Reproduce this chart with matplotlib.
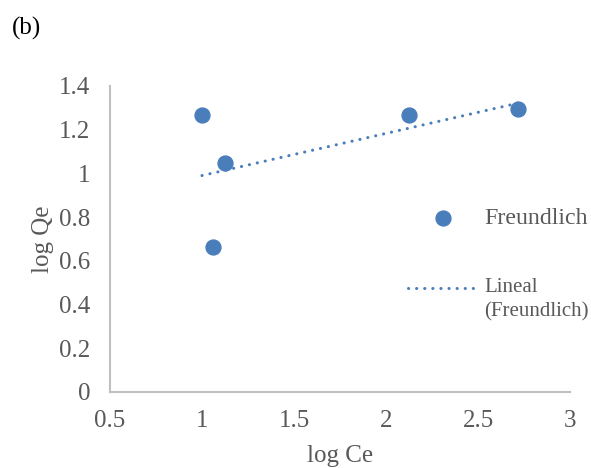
import numpy as np
import matplotlib
matplotlib.use('Agg')
from matplotlib import pyplot as plt
from matplotlib.lines import Line2D

# Freundlich isotherm data
log_ce = [1.00, 1.125, 1.06, 2.127, 2.72]
log_qe = [1.266, 1.049, 0.662, 1.266, 1.293]

x_ticks = [0.5, 1, 1.5, 2, 2.5, 3]
x_labels = ['0.5', '1', '1.5', '2', '2.5', '3']
y_ticks = [0, 0.2, 0.4, 0.6, 0.8, 1, 1.2, 1.4]
y_labels = ['0', '0.2', '0.4', '0.6', '0.8', '1', '1.2', '1.4']

blue = '#4a7ebb'
grey_txt = '#595959'
grey_axis = '#bfbfbf'
fs = 18

plt.rcParams['font.family'] = ['Liberation Serif', 'DejaVu Serif']

W, H = 591, 468
fig = plt.figure(figsize=(W/100, H/100), dpi=100)
ax = fig.add_axes([110/W, 1 - 392/H, 460/W, 306/H])

ax.scatter(log_ce, log_qe, s=115, color=blue, zorder=3)

# linear trendline, fitted like Excel does
slope, intercept = np.polyfit(log_ce, log_qe, 1)
xs = np.array([min(log_ce), max(log_ce)])
dots = (0, (0.05, 2.6))
ax.plot(xs, slope * xs + intercept, color=blue, lw=2.2,
        linestyle=dots, dash_capstyle='round', zorder=2)

ax.set_xlim(0.5, 3)
ax.set_ylim(0, 1.4)
ax.set_xticks(x_ticks)
ax.set_xticklabels(x_labels)
ax.set_yticks(y_ticks)
ax.set_yticklabels(y_labels)
ax.tick_params(length=0, labelsize=fs, colors=grey_txt)
ax.tick_params(axis='y', pad=14)
ax.tick_params(axis='x', pad=13)

for s in ['top', 'right']:
    ax.spines[s].set_visible(False)
for s in ['left', 'bottom']:
    ax.spines[s].set_color(grey_axis)
    ax.spines[s].set_linewidth(1.5)

ax.set_xlabel('log Ce', fontsize=fs, color=grey_txt, labelpad=9)
ax.set_ylabel('log Qe', fontsize=fs, color=grey_txt, labelpad=4)

# legend, placed by hand like the Excel one
fig.add_artist(Line2D([443/W], [1 - 218/H], marker='o', markersize=10.7,
                      color=blue, linestyle='none'))
fig.text(484/W, 1 - 218/H, 'Freundlich', fontsize=17.2, color=grey_txt, va='center')
fig.add_artist(Line2D([408/W, 477/W], [1 - 288/H, 1 - 288/H], color=blue, lw=2.2,
                      linestyle=dots, dash_capstyle='round'))
fig.text(484/W, 1 - 288/H, 'Lineal', fontsize=15, color=grey_txt, va='center')
fig.text(484/W, 1 - 312/H, '(Freundlich)', fontsize=15, color=grey_txt, va='center')

fig.text(12/W, 1 - 28/H, '(b)', fontsize=fs, color='black', va='center')

plt.savefig('out.png', dpi=100)
